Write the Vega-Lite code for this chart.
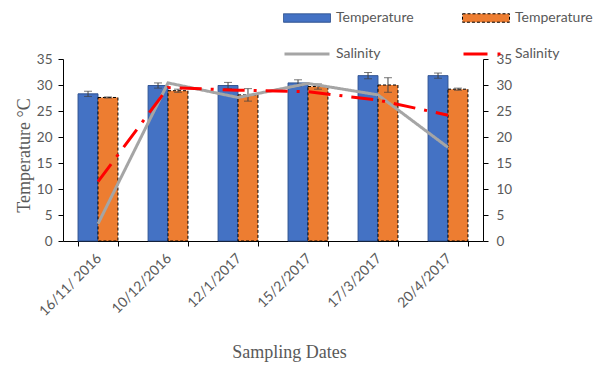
{
  "$schema": "https://vega.github.io/schema/vega-lite/v6.json",
  "width": 420,
  "height": 182,
  "autosize": {"type": "none"},
  "padding": {"left": 63, "top": 59, "right": 112, "bottom": 124},
  "background": "white",
  "config": {"view": {"stroke": null}},
  "data": {
    "values": [
      {"date": "16/11/ 2016", "series": "T1", "value": 28.3, "err": 0.5},
      {"date": "10/12/2016", "series": "T1", "value": 29.9, "err": 0.5},
      {"date": "12/1/2017", "series": "T1", "value": 29.9, "err": 0.6},
      {"date": "15/2/2017", "series": "T1", "value": 30.4, "err": 0.6},
      {"date": "17/3/2017", "series": "T1", "value": 31.8, "err": 0.6},
      {"date": "20/4/2017", "series": "T1", "value": 31.8, "err": 0.5},
      {"date": "16/11/ 2016", "series": "T2", "value": 27.6, "err": 0.1},
      {"date": "10/12/2016", "series": "T2", "value": 28.9, "err": 0.3},
      {"date": "12/1/2017", "series": "T2", "value": 28.1, "err": 1.2},
      {"date": "15/2/2017", "series": "T2", "value": 29.7, "err": 0.5},
      {"date": "17/3/2017", "series": "T2", "value": 30.0, "err": 1.4},
      {"date": "20/4/2017", "series": "T2", "value": 29.2, "err": 0.2},
      {"date": "16/11/ 2016", "series": "S1", "value": 3.3},
      {"date": "10/12/2016", "series": "S1", "value": 30.4},
      {"date": "12/1/2017", "series": "S1", "value": 27.6},
      {"date": "15/2/2017", "series": "S1", "value": 30.3},
      {"date": "17/3/2017", "series": "S1", "value": 28.1},
      {"date": "20/4/2017", "series": "S1", "value": 18.0},
      {"date": "16/11/ 2016", "series": "S2", "value": 11.4},
      {"date": "10/12/2016", "series": "S2", "value": 29.5},
      {"date": "12/1/2017", "series": "S2", "value": 29.0},
      {"date": "15/2/2017", "series": "S2", "value": 28.7},
      {"date": "17/3/2017", "series": "S2", "value": 27.1},
      {"date": "20/4/2017", "series": "S2", "value": 24.2}
    ]
  },
  "encoding": {
    "x": {
      "field": "date",
      "type": "nominal",
      "sort": null,
      "scale": {"paddingInner": 0.43, "paddingOuter": 0.215},
      "axis": {
        "title": "Sampling Dates",
        "titleFont": "Liberation Serif",
        "titleFontSize": 18,
        "titleFontWeight": "normal",
        "titleColor": "#595959",
        "titlePadding": 25,
        "titleX": 226,
        "labelAngle": -45,
        "labelAlign": "right",
        "labelBaseline": "middle",
        "labelFont": "Lato",
        "labelFontSize": 14,
        "labelColor": "#595959",
        "labelPadding": 10,
        "labelOffset": 1,
        "domainColor": "#000000",
        "tickColor": "#000000",
        "tickBand": "extent",
        "tickSize": 5
      }
    }
  },
  "layer": [
    {
      "transform": [{"filter": "datum.series === 'T1' || datum.series === 'T2'"}],
      "encoding": {
        "y": {
          "field": "value",
          "type": "quantitative",
          "scale": {"domain": [0, 35], "nice": false},
          "axis": {
            "title": "Temperature °C",
            "titleFont": "Liberation Serif",
            "titleFontSize": 18,
            "titleFontWeight": "normal",
            "titleColor": "#595959",
            "titlePadding": 3,
            "titleY": 96,
            "values": [0, 5, 10, 15, 20, 25, 30, 35],
            "grid": false,
            "labelFont": "Lato",
            "labelFontSize": 13.5,
            "labelColor": "#595959",
            "labelPadding": 6,
            "domainColor": "#000000",
            "tickColor": "#000000",
            "tickSize": 5
          }
        },
        "xOffset": {"field": "series", "type": "nominal", "sort": ["T1", "T2"]}
      },
      "layer": [
        {
          "mark": {"type": "bar", "strokeWidth": 1},
          "encoding": {
            "fill": {
              "field": "series",
              "type": "nominal",
              "scale": {"domain": ["T1", "T2"], "range": ["#4472C4", "#ED7D31"]},
              "legend": {
                "orient": "none", "legendX": 220, "legendY": -65,
                "direction": "horizontal", "columns": 2, "title": null,
                "symbolType": "M-1,-0.18H1V0.18H-1Z", "symbolSize": 2209,
                "symbolStrokeWidth": 1,
                "labelExpr": "'Temperature'", "labelFont": "Lato", "labelFontSize": 14,
                "labelColor": "#595959", "columnPadding": 46, "labelOffset": 5,
                "encode": {
                  "symbols": {
                    "update": {
                      "stroke": {"signal": "datum.value === 'T2' ? '#000000' : '#2F528F'"},
                      "strokeDash": {"signal": "datum.value === 'T2' ? [3, 2] : [1, 0]"},
                      "strokeWidth": {"value": 1}
                    }
                  }
                }
              }
            },
            "stroke": {
              "field": "series",
              "type": "nominal",
              "scale": {"domain": ["T1", "T2"], "range": ["#2F528F", "#000000"]},
              "legend": null
            },
            "strokeDash": {
              "field": "series",
              "type": "nominal",
              "scale": {"domain": ["T1", "T2"], "range": [[1, 0], [3, 2]]},
              "legend": null
            }
          }
        },
        {
          "mark": {"type": "errorbar", "ticks": {"size": 8, "color": "#404040"}, "rule": {"color": "#404040"}},
          "encoding": {
            "yError": {"field": "err"}
          }
        }
      ]
    },
    {
      "transform": [{"filter": "datum.series === 'S1' || datum.series === 'S2'"}],
      "mark": {"type": "line", "strokeWidth": 3},
      "encoding": {
        "y": {
          "field": "value",
          "type": "quantitative",
          "scale": {"domain": [0, 35], "nice": false},
          "axis": {
            "orient": "right",
            "title": null,
            "values": [0, 5, 10, 15, 20, 25, 30, 35],
            "grid": false,
            "labelFont": "Lato",
            "labelFontSize": 13.5,
            "labelColor": "#595959",
            "labelPadding": 8,
            "domainColor": "#000000",
            "tickColor": "#000000",
            "tickSize": 5
          }
        },
        "color": {
          "field": "series",
          "type": "nominal",
          "scale": {"domain": ["S1", "S2"], "range": ["#A5A5A5", "#FF0000"]},
          "legend": {
            "orient": "none", "legendX": 220, "legendY": -29,
            "direction": "horizontal", "columns": 2, "title": null,
            "symbolType": "stroke", "symbolSize": 2025, "symbolStrokeWidth": 3,
            "labelExpr": "'Salinity'", "labelFont": "Lato", "labelFontSize": 14,
            "labelColor": "#595959", "columnPadding": 76, "labelOffset": 5,
            "encode": {
              "symbols": {
                "update": {
                  "strokeDash": {"signal": "datum.value === 'S2' ? [24, 10, 3, 10] : [1, 0]"}
                }
              }
            }
          }
        },
        "strokeDash": {
          "field": "series",
          "type": "nominal",
          "scale": {"domain": ["S1", "S2"], "range": [[1, 0], [22, 9, 3, 9]]},
          "legend": null
        }
      }
    }
  ],
  "resolve": {"scale": {"y": "independent", "strokeDash": "independent"}}
}
